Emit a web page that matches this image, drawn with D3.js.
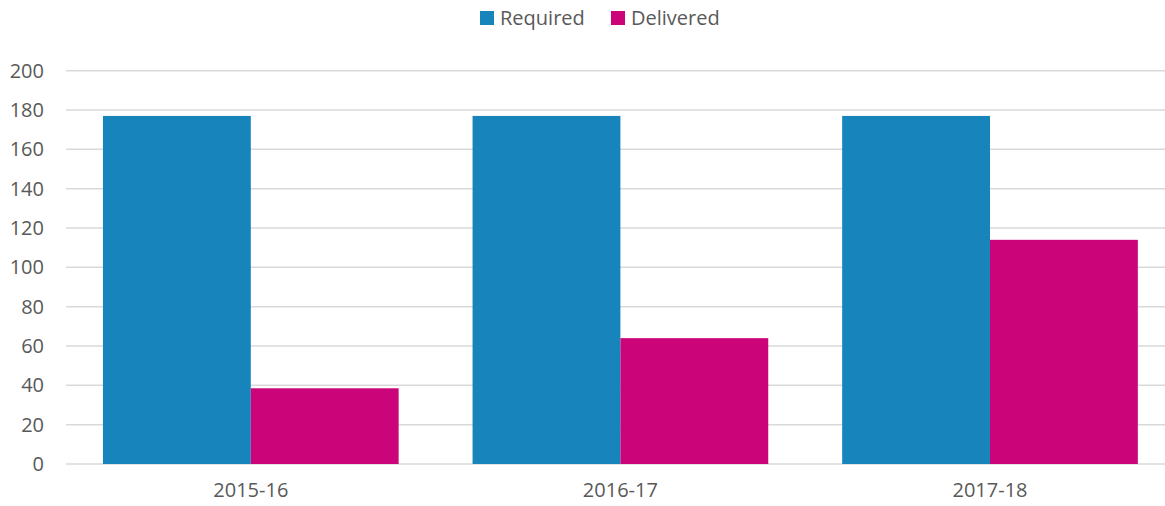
<!DOCTYPE html>
<html>
<head>
<meta charset="utf-8">
<script src="https://cdn.jsdelivr.net/npm/d3@7"></script>
<style>
  body { margin: 0; background: #fff; }
  text { font-family: "Open Sans", sans-serif; fill: #595959; }
</style>
</head>
<body>
<svg width="1165" height="506"></svg>
<script>
'use strict';

// data
var years = ['2015-16', '2016-17', '2017-18'];
var seriesNames = ['Required', 'Delivered'];
var required = [177, 177, 177];
var delivered = [38.5, 64, 114];
var yTicks = [0, 20, 40, 60, 80, 100, 120, 140, 160, 180, 200];

var colors = { Required: '#1785bc', Delivered: '#cc0479' };

var svg = d3.select('svg');

var x = d3.scaleBand()
    .domain(years)
    .range([66, 1174.8])
    .padding(0);

var xInner = d3.scaleBand()
    .domain(seriesNames)
    .range([0, x.bandwidth()])
    .paddingInner(0)
    .paddingOuter(0.25);

var y = d3.scaleLinear()
    .domain([0, 200])
    .range([464, 70.7]);

// gridlines
svg.append('g')
    .selectAll('line')
    .data(yTicks)
    .enter()
    .append('line')
    .attr('x1', 66)
    .attr('x2', 1165)
    .attr('y1', function(d) { return y(d); })
    .attr('y2', function(d) { return y(d); })
    .attr('stroke', '#d9d9d9')
    .attr('stroke-width', 1.5);

// y axis labels
var yAxis = svg.append('g')
    .attr('transform', 'translate(44,0)')
    .call(d3.axisLeft(y).tickValues(yTicks).tickSize(0).tickPadding(0));
yAxis.select('.domain').remove();
yAxis.selectAll('text')
    .attr('font-size', 20)
    .attr('font-family', '"Open Sans", sans-serif')
    .attr('fill', '#595959');

// x axis labels
var xAxis = svg.append('g')
    .attr('transform', 'translate(0,480)')
    .call(d3.axisBottom(x).tickSize(0).tickPadding(0));
xAxis.select('.domain').remove();
xAxis.selectAll('text')
    .attr('dy', '0.71em')
    .attr('y', 3)
    .attr('font-size', 20)
    .attr('font-family', '"Open Sans", sans-serif')
    .attr('fill', '#595959');

// bars
var rows = years.map(function(yr, i) {
    return { year: yr, values: [
        { key: 'Required', value: required[i] },
        { key: 'Delivered', value: delivered[i] }
    ] };
});

var groups = svg.append('g')
    .selectAll('g')
    .data(rows)
    .enter()
    .append('g')
    .attr('transform', function(d) { return 'translate(' + x(d.year) + ',0)'; });

groups.selectAll('rect')
    .data(function(d) { return d.values; })
    .enter()
    .append('rect')
    .attr('x', function(d) { return xInner(d.key); })
    .attr('width', xInner.bandwidth())
    .attr('y', function(d) { return y(d.value); })
    .attr('height', function(d) { return y(0) - y(d.value); })
    .attr('fill', function(d) { return colors[d.key]; });

// legend
var legendX = { Required: 480, Delivered: 611 };
var legend = svg.append('g')
    .selectAll('g')
    .data(seriesNames)
    .enter()
    .append('g')
    .attr('transform', function(d) { return 'translate(' + legendX[d] + ',11)'; });
legend.append('rect')
    .attr('width', 14)
    .attr('height', 14)
    .attr('fill', function(d) { return colors[d]; });
legend.append('text')
    .attr('x', 20)
    .attr('y', 7)
    .attr('dy', '0.35em')
    .attr('font-size', 20)
    .text(function(d) { return d; });
</script>
</body>
</html>
